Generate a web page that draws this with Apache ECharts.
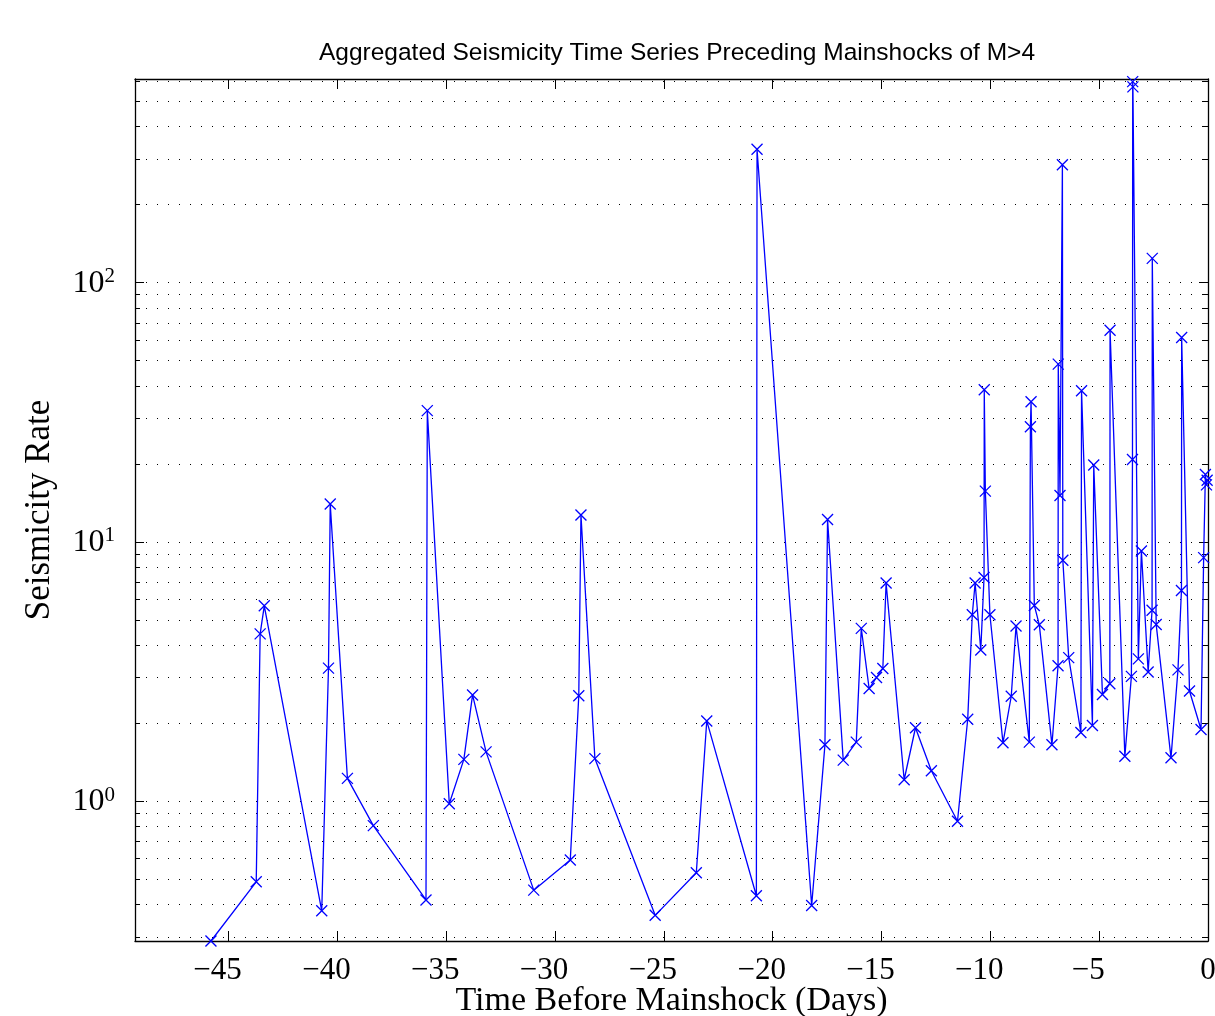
<!DOCTYPE html>
<html>
<head>
<meta charset="utf-8">
<script src="https://cdn.jsdelivr.net/npm/echarts@6/dist/echarts.min.js"></script>
<style>html,body{margin:0;padding:0;background:#fff}#chart{width:1215px;height:1016px}</style>
</head>
<body>
<div id="chart"></div>
<script>
// ---- data ----
const xDays = [
  -45.81, -43.73, -43.55, -43.36, -40.72, -40.41, -40.33, -39.54, -38.35, -35.93,
  -35.87, -34.86, -34.19, -33.79, -33.17, -30.98, -29.30, -28.91, -28.81, -28.17,
  -25.40, -23.51, -23.03, -20.75, -20.72, -18.21, -17.60, -17.48, -16.76, -16.16,
  -15.93, -15.57, -15.23, -14.94, -14.79, -13.96, -13.44, -12.71, -11.51, -11.04,
  -10.83, -10.70, -10.44, -10.29, -10.28, -10.23, -10.02, -9.42, -9.04, -8.82,
  -8.21, -8.16, -8.13, -7.98, -7.75, -7.17, -6.89, -6.88, -6.80, -6.69,
  -6.67, -6.40, -5.84, -5.81, -5.31, -5.25, -4.85, -4.51, -4.50, -3.82,
  -3.52, -3.47, -3.46, -3.45, -3.20, -3.06, -2.75, -2.57, -2.56, -2.38,
  -1.70, -1.38, -1.22, -1.21, -0.85, -0.32, -0.20, -0.12, -0.07, -0.04
];
const rates = [
  0.289, 0.489, 4.42, 5.67, 0.378, 3.26, 14.0, 1.225, 0.805, 0.416,
  32.1, 0.978, 1.45, 2.57, 1.55, 0.454, 0.593, 2.55, 12.7, 1.46,
  0.363, 0.530, 2.04, 0.432, 327, 0.396, 1.65, 12.2, 1.44, 1.69,
  4.64, 2.72, 3.0, 3.25, 6.94, 1.21, 1.92, 1.31, 0.837, 2.07,
  5.24, 6.94, 3.83, 7.29, 38.6, 15.7, 5.24, 1.68, 2.54, 4.74,
  1.69, 27.8, 34.7, 5.69, 4.79, 1.65, 3.33, 48.5, 15.1, 285,
  8.5, 3.58, 1.84, 38.3, 1.96, 19.8, 2.58, 2.84, 65.5, 1.49,
  3.03, 20.8, 596, 569, 3.54, 9.22, 3.15, 5.45, 124, 4.8,
  1.47, 3.21, 6.5, 61.4, 2.66, 1.89, 8.7, 18.2, 16.6, 17.3
];
const xTickValues = [-45, -40, -35, -30, -25, -20, -15, -10, -5, 0];
const yMajorValues = [1, 10, 100];
const yGridValues = [0.3, 0.4, 0.5, 0.6, 0.7, 0.8, 0.9, 1, 2, 3, 4, 5, 6, 7, 8, 9,
  10, 20, 30, 40, 50, 60, 70, 80, 90, 100, 200, 300, 400, 500, 600];
const xLimits = [-49.3, 0];
const yLimits = [0.289, 610];
const titleText = 'Aggregated Seismicity Time Series Preceding Mainshocks of M>4';
const xAxisTitle = 'Time Before Mainshock (Days)';
const yAxisTitle = 'Seismicity Rate';

// ---- chart ----
const serif = '"Liberation Serif", "Times New Roman", serif';
const sans = '"Liberation Sans", Arial, sans-serif';
const lineColor = '#000';

const seriesData = xDays.map((x, i) => [x, rates[i]]);

function xAxisBase(position) {
  return {
    type: 'value', position: position, min: xLimits[0], max: xLimits[1],
    axisLine: { show: true, onZero: false, lineStyle: { color: lineColor, width: 1.3 } },
    axisTick: { show: true, inside: true, length: 10, customValues: xTickValues,
      lineStyle: { color: lineColor, width: 1 } },
    splitLine: { show: false },
    axisLabel: { show: false }
  };
}
function yAxisBase(position, ticks, tickLen, showLine) {
  return {
    type: 'log', logBase: 10, position: position, min: yLimits[0], max: yLimits[1],
    axisLine: { show: showLine, onZero: false, lineStyle: { color: lineColor, width: 1.3 } },
    axisTick: { show: true, inside: true, length: tickLen, customValues: ticks,
      lineStyle: { color: lineColor, width: 1 } },
    splitLine: { show: false },
    axisLabel: { show: false }
  };
}

const xBottom = xAxisBase('bottom');
xBottom.axisLabel = {
  show: true, customValues: xTickValues, margin: 14,
  formatter: v => v < 0 ? '{n|\u2212' + Math.abs(v) + '}' : '{z|' + v + '}',
  rich: {
    n: { fontFamily: serif, fontSize: 31, color: '#000', padding: [0, 22, 0, 0] },
    z: { fontFamily: serif, fontSize: 31, color: '#000' }
  }
};
xBottom.name = xAxisTitle;
xBottom.nameLocation = 'middle';
xBottom.nameGap = 43;
xBottom.nameMoveOverlap = false;
xBottom.nameTextStyle = { fontFamily: serif, fontSize: 34, color: '#000' };

const xTop = xAxisBase('top');

const yLeftMajor = yAxisBase('left', yMajorValues, 9, true);
yLeftMajor.axisLabel = {
  show: true, customValues: yMajorValues, margin: 20,
  formatter: v => '{b|10}{s|' + Math.round(Math.log10(v)) + '}',
  rich: {
    b: { fontFamily: serif, fontSize: 32, lineHeight: 33, color: '#000', verticalAlign: 'bottom' },
    s: { fontFamily: serif, fontSize: 21, lineHeight: 21, color: '#000', verticalAlign: 'top' }
  }
};
yLeftMajor.name = yAxisTitle;
yLeftMajor.nameLocation = 'middle';
yLeftMajor.nameGap = 78;
yLeftMajor.nameMoveOverlap = false;
yLeftMajor.nameTextStyle = { fontFamily: serif, fontSize: 35, color: '#000' };

const yLeftGrid = yAxisBase('left', yGridValues, 5, false);
yLeftGrid.splitLine = { show: true, lineStyle: { color: '#000', width: 1, type: [1, 10] } };

const yRightMajor = yAxisBase('right', yMajorValues, 9, true);
const yRightMinor = yAxisBase('right', yGridValues, 5, false);

const chart = echarts.init(document.getElementById('chart'), null, { renderer: 'canvas' });
chart.setOption({
  animation: false,
  backgroundColor: '#fff',
  title: {
    text: titleText, left: 672, top: 36, textAlign: 'center',
    textStyle: { fontFamily: sans, fontSize: 24.5, fontWeight: 'normal', color: '#000' }
  },
  grid: { left: 135, right: 7, top: 79, bottom: 75, containLabel: false, outerBoundsMode: 'none' },
  xAxis: [xBottom, xTop],
  yAxis: [yLeftMajor, yLeftGrid, yRightMajor, yRightMinor],
  series: [{
    type: 'line', xAxisIndex: 0, yAxisIndex: 0, data: seriesData,
    showSymbol: true, showAllSymbol: true, clip: false,
    symbol: 'path://M0,0L10,10M10,0L0,10', symbolSize: 11,
    lineStyle: { color: '#0000ff', width: 1.3 },
    itemStyle: { color: '#0000ff', borderColor: '#0000ff', borderWidth: 1.3 },
    emphasis: { disabled: true }, z: 5
  }]
});
</script>
</body>
</html>
